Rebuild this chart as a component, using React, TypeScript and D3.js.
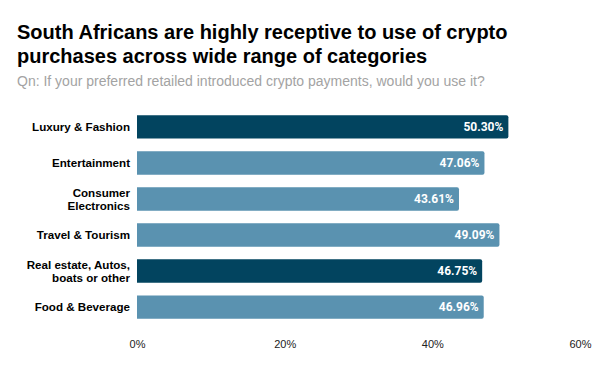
import React from "react";
import * as d3 from "d3";

const categories = [
  "Luxury & Fashion",
  "Entertainment",
  "Consumer Electronics",
  "Travel & Tourism",
  "Real estate, Autos, boats or other",
  "Food & Beverage",
];
// label lines as drawn on the chart
const labelLines = [
  ["Luxury & Fashion"],
  ["Entertainment"],
  ["Consumer", "Electronics"],
  ["Travel & Tourism"],
  ["Real estate, Autos,", "boats or other"],
  ["Food & Beverage"],
];
const values = [50.3, 47.06, 43.61, 49.09, 46.75, 46.96];
const highlighted = [true, false, false, false, true, false];
const xTicks = [0, 20, 40, 60];

const title = [
  "South Africans are highly receptive to use of crypto",
  "purchases across wide range of categories",
];
const subtitle = "Qn: If your preferred retailed introduced crypto payments, would you use it?";

const W = 600;
const H = 371;
const margin = { left: 137, right: 20, top: 109, bottom: 46 };

const App = () => {
  const svgRef = React.useRef<SVGSVGElement>(null);

  React.useEffect(() => {
    const svg = d3.select(svgRef.current);
    svg.selectAll("*").remove();

    const x = d3.scaleLinear().domain([0, 60]).range([margin.left, W - margin.right]);
    const y = d3
      .scaleBand()
      .domain(categories)
      .range([margin.top, H - margin.bottom])
      .paddingInner(0.35)
      .paddingOuter(0.17);

    // title + subtitle
    svg
      .append("g")
      .selectAll("text")
      .data(title)
      .enter()
      .append("text")
      .attr("x", 17)
      .attr("y", (d, i) => 39 + i * 24)
      .attr("font-family", "Liberation Sans, Arial, sans-serif")
      .attr("font-weight", "bold")
      .attr("font-size", 20)
      .attr("fill", "#000")
      .text((d) => d);
    svg
      .append("text")
      .attr("x", 17)
      .attr("y", 86)
      .attr("font-family", "Liberation Sans, Arial, sans-serif")
      .attr("font-size", 14)
      .attr("fill", "#a3a3a3")
      .text(subtitle);

    // bars with rounded right end
    const barPath = (d: number, i: number) => {
      const x0 = x(0);
      const x1 = x(d);
      const y0 = y(categories[i])!;
      const h = y.bandwidth();
      const r = 2;
      return `M${x0},${y0}H${x1 - r}Q${x1},${y0} ${x1},${y0 + r}V${y0 + h - r}Q${x1},${y0 + h} ${x1 - r},${y0 + h}H${x0}Z`;
    };
    svg
      .append("g")
      .selectAll("path")
      .data(values)
      .enter()
      .append("path")
      .attr("d", (d, i) => barPath(d, i))
      .attr("fill", (d, i) => (highlighted[i] ? "#02445f" : "#5a92b0"));

    // value labels
    svg
      .append("g")
      .selectAll("text")
      .data(values)
      .enter()
      .append("text")
      .attr("x", (d) => x(d) - 5)
      .attr("y", (d, i) => y(categories[i])! + y.bandwidth() / 2)
      .attr("dy", "0.35em")
      .attr("text-anchor", "end")
      .attr("font-family", "Roboto, sans-serif")
      .attr("font-weight", "bold")
      .attr("font-size", 12)
      .attr("fill", "#fff")
      .text((d) => d.toFixed(2) + "%");

    // category labels
    const labels = svg
      .append("g")
      .selectAll("text")
      .data(labelLines)
      .enter()
      .append("text")
      .attr("text-anchor", "end")
      .attr("font-family", "Liberation Sans, Arial, sans-serif")
      .attr("font-weight", "bold")
      .attr("font-size", 11.6)
      .attr("fill", "#000")
      .attr("y", (d, i) => y(categories[i])! + y.bandwidth() / 2);
    labels
      .selectAll("tspan")
      .data((d) => d.map((t) => ({ t, n: d.length })))
      .enter()
      .append("tspan")
      .attr("x", 130)
      .attr("dy", (d, j) => (j === 0 ? `${0.35 - (d.n - 1) * 0.56}em` : "1.12em"))
      .text((d) => d.t);

    // x axis labels
    const xAxis = d3
      .axisBottom(x)
      .tickValues(xTicks)
      .tickSize(0)
      .tickPadding(0)
      .tickFormat((d) => d + "%");
    const ax = svg.append("g").attr("transform", `translate(0, 340)`).call(xAxis);
    ax.select(".domain").remove();
    ax.selectAll("text")
      .attr("font-family", "Liberation Sans, Arial, sans-serif")
      .attr("font-size", 11)
      .attr("fill", "#222");
  }, []);

  return <svg ref={svgRef} width={W} height={H} style={{ display: "block", position: "absolute", left: 0, top: 0 }} />;
};

export default App;
